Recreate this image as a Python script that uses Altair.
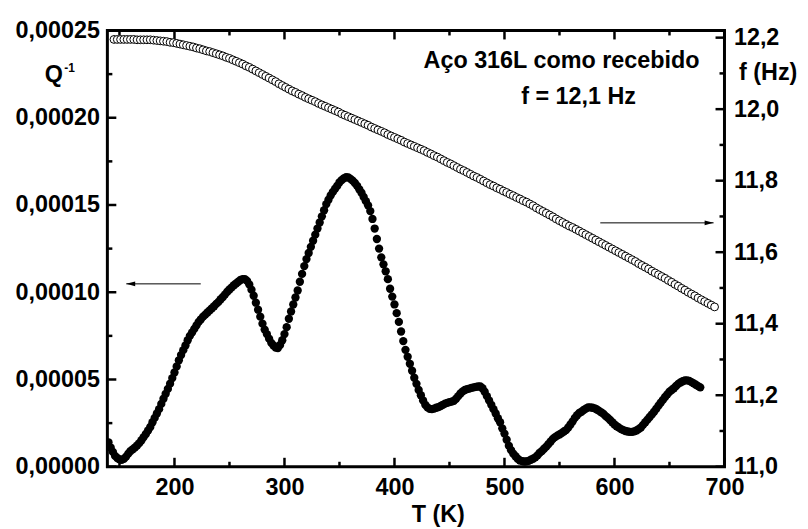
import altair as alt
import pandas as pd

# ---------------- data ----------------
# Internal friction Q^-1 (in units of 1e-6), T step 2 K from 140 K to 678 K
q_T = list(range(140, 679, 2))
q_e6 = [
    14, 11, 8.5, 6.2, 5, 4.2, 4, 4.5, 5.8, 7.5,                    # 140-158
    9, 10, 11, 12.2, 13.5, 15.2, 17, 18.8, 20.8, 22.8,              # 160-178
    25.5, 28, 30.5, 33, 36, 39, 41.8, 44.6, 47.6, 50.8,             # 180-198
    54, 57.5, 61, 64, 66.8, 69.5, 72.5, 75, 77, 79,                 # 200-218
    81, 83, 84.5, 86, 87.2, 88.4, 89.6, 90.8, 92, 93.3,             # 220-238
    94.5, 96, 97.3, 98.8, 100.3, 101.6, 102.8, 104, 105, 106,       # 240-258
    107, 107.5, 107.5, 106.5, 104.5, 101.5, 98, 94, 90, 86,         # 260-278
    82, 78.6, 76, 73.4, 71, 69.5, 68.3, 68, 69.8, 72.5,             # 280-298
    76, 80, 84.8, 89, 93, 97, 101, 106, 110.5, 115,                 # 300-318
    119, 122.5, 126, 129.5, 133, 136.5, 140, 143.5, 147, 150.5,     # 320-338
    153, 155.5, 157.5, 159.3, 161, 163, 164.3, 165.3, 166, 165.8,   # 340-358
    165, 164, 162.6, 161, 159, 157, 154.6, 152.2, 149.8, 146.5,     # 360-378
    142, 136.5, 130.5, 125, 120, 116, 112, 107.5, 102, 97.5,        # 380-398
    93, 88, 83, 77.5, 72, 67, 63, 59, 55, 51,                       # 400-418
    47.5, 44, 41, 38, 35.5, 34, 33.2, 33, 33.3, 33.8,               # 420-438
    34.2, 34.8, 35.5, 36.2, 36.6, 37, 37.3, 37.8, 39, 40.5,         # 440-458
    42, 43.2, 44, 44.5, 44.8, 45.2, 45.5, 45.8, 46, 46,             # 460-478
    45, 43, 40.5, 38, 35.5, 33, 30.5, 27.8, 25.5, 22,               # 480-498
    19, 15.5, 12, 9.5, 7.5, 6, 4.6, 3.6, 3.2, 3,                    # 500-518
    3.1, 3.4, 4, 4.6, 5.4, 6.5, 8, 9, 10.3, 11.5,                   # 520-538
    13, 14.5, 16, 17, 17.8, 18.5, 19.3, 20.2, 21, 22.5,             # 540-558
    24.2, 26, 28, 29.5, 30.8, 31.5, 32.5, 33.3, 34, 34,             # 560-578
    33.8, 33.5, 32.8, 32, 31.2, 30.3, 29, 28, 26.8, 25.5,           # 580-598
    24.2, 23.2, 22.4, 21.6, 21, 20.5, 20.2, 20, 20, 20.3,           # 600-618
    20.8, 21.6, 22.5, 24, 25.5, 27, 28.5, 30, 31.5, 33.2,           # 620-638
    35, 36.7, 38.3, 40, 41.5, 43, 44, 45, 46.3, 47.5,               # 640-658
    48.3, 49, 49.5, 49.5, 49.2, 48.5, 47.8, 47, 46.2, 45.5,         # 660-678
]

# Resonance frequency f (Hz), T step 3 K from 145 K to 691 K
f_T = list(range(145, 692, 3))
f_hz = [
    12.195, 12.195, 12.195, 12.195, 12.195, 12.195, 12.195, 12.194, 12.194, 12.194,
    12.194, 12.194, 12.193, 12.192, 12.191, 12.190, 12.189, 12.187, 12.186, 12.184,
    12.182, 12.180, 12.178, 12.176, 12.174, 12.171, 12.169, 12.166, 12.163, 12.161,
    12.158, 12.155, 12.152, 12.149, 12.145, 12.142, 12.138, 12.134, 12.130, 12.126,
    12.121, 12.117, 12.112, 12.107, 12.102, 12.097, 12.092, 12.087, 12.082, 12.077,
    12.071, 12.066, 12.061, 12.056, 12.051, 12.047, 12.042, 12.038, 12.033, 12.029,
    12.025, 12.021, 12.016, 12.012, 12.008, 12.004, 12.000, 11.996, 11.992, 11.987,
    11.983, 11.979, 11.975, 11.971, 11.967, 11.963, 11.959, 11.955, 11.950, 11.946,
    11.942, 11.938, 11.934, 11.929, 11.925, 11.921, 11.917, 11.913, 11.908, 11.904,
    11.900, 11.896, 11.892, 11.888, 11.884, 11.879, 11.875, 11.870, 11.866, 11.861,
    11.856, 11.851, 11.847, 11.842, 11.837, 11.832, 11.828, 11.823, 11.818, 11.813,
    11.809, 11.804, 11.799, 11.794, 11.789, 11.785, 11.780, 11.776, 11.771, 11.767,
    11.762, 11.758, 11.753, 11.749, 11.744, 11.740, 11.735, 11.730, 11.724, 11.719,
    11.714, 11.709, 11.704, 11.699, 11.693, 11.688, 11.683, 11.678, 11.673, 11.669,
    11.664, 11.659, 11.654, 11.649, 11.644, 11.639, 11.634, 11.629, 11.624, 11.619,
    11.614, 11.609, 11.604, 11.599, 11.594, 11.589, 11.584, 11.579, 11.574, 11.568,
    11.563, 11.558, 11.553, 11.547, 11.542, 11.537, 11.532, 11.527, 11.521, 11.516,
    11.510, 11.505, 11.499, 11.494, 11.488, 11.483, 11.478, 11.472, 11.467, 11.462,
    11.457, 11.452, 11.447,
]

# axes
T_DOMAIN = [139, 700]
Q_DOMAIN = [0, 0.00025]
F_DOMAIN = [11.0, 12.22]
x_major = [200, 300, 400, 500, 600, 700]
x_minor = [150, 250, 350, 450, 550, 650]
q_major = [0.0, 0.00005, 0.0001, 0.00015, 0.0002, 0.00025]
q_minor = [0.000025, 0.000075, 0.000125, 0.000175, 0.000225]
f_major = [11.0, 11.2, 11.4, 11.6, 11.8, 12.0, 12.2]
f_minor = [11.1, 11.3, 11.5, 11.7, 11.9, 12.1]

# arrows (data units): tail, tip, head centre, level
arrow_q = {"T": [223.9], "T2": [156.2], "head": [160.2], "v": [0.0001048]}
arrow_f = {"T": [587.1], "T2": [690.1], "head": [686.0], "v": [11.682]}

FONT = "Liberation Sans"
FS = 23.5
W, H = 621, 439

# ---------------- encodings ----------------
axis_common = dict(
    ticks=False, tickSize=0, domain=False, grid=False, title=None,
    labelFont=FONT, labelFontSize=FS, labelFontWeight="bold", labelColor="black",
    labelFlush=False, labelOverlap=False, labelBound=False,
)

x_enc = alt.X("T:Q", scale=alt.Scale(domain=T_DOMAIN, nice=False, zero=False),
              axis=alt.Axis(values=x_major, format="d", labelPadding=9, **axis_common))
x2_enc = alt.X2("T2")
yq_enc = alt.Y("v:Q", scale=alt.Scale(domain=Q_DOMAIN, nice=False, zero=False),
               axis=alt.Axis(orient="left", values=q_major, labelPadding=8,
                             labelExpr="replace(format(datum.value, '.5f'), '.', ',')",
                             **axis_common))
yf_enc = alt.Y("v:Q", scale=alt.Scale(domain=F_DOMAIN, nice=False, zero=False),
               axis=alt.Axis(orient="right", values=f_major, labelPadding=9,
                             labelExpr="replace(format(datum.value, '.1f'), '.', ',')",
                             **axis_common))

q_df = pd.DataFrame({"T": q_T, "v": [v * 1e-6 for v in q_e6]})
f_df = pd.DataFrame({"T": f_T, "v": f_hz})

TW = 2.5
MAJ, MIN = 9, 5

# ---------------- left group (Q^-1) ----------------
q_points = alt.Chart(q_df).mark_circle(size=70, color="black", opacity=1, clip=True).encode(
    x=x_enc, y=yq_enc)

q_tick_maj = alt.Chart(pd.DataFrame({"v": q_major})).mark_rule(color="black", strokeWidth=TW).encode(
    y=yq_enc, x=alt.value(0), x2=alt.value(MAJ))
q_tick_min = alt.Chart(pd.DataFrame({"v": q_minor})).mark_rule(color="black", strokeWidth=TW).encode(
    y=yq_enc, x=alt.value(0), x2=alt.value(MIN))

xb_maj = alt.Chart(pd.DataFrame({"T": x_major})).mark_rule(color="black", strokeWidth=TW).encode(
    x=x_enc, y=alt.value(H), y2=alt.value(H - MAJ))
xb_min = alt.Chart(pd.DataFrame({"T": x_minor})).mark_rule(color="black", strokeWidth=TW).encode(
    x=x_enc, y=alt.value(H), y2=alt.value(H - MIN))
xt_maj = alt.Chart(pd.DataFrame({"T": x_major})).mark_rule(color="black", strokeWidth=TW).encode(
    x=x_enc, y=alt.value(0), y2=alt.value(MAJ))
xt_min = alt.Chart(pd.DataFrame({"T": x_minor})).mark_rule(color="black", strokeWidth=TW).encode(
    x=x_enc, y=alt.value(0), y2=alt.value(MIN))

aq_df = pd.DataFrame(arrow_q)
aq_line = alt.Chart(aq_df).mark_rule(color="black", strokeWidth=1).encode(x=x_enc, x2=x2_enc, y=yq_enc)
aq_head = alt.Chart(aq_df).mark_point(shape="M -1 0 L 1 -0.55 L 1 0.55 Z", size=81, filled=True,
                                      color="black", opacity=1).encode(
    x=alt.X("head:Q", scale=alt.Scale(domain=T_DOMAIN, nice=False, zero=False)), y=yq_enc)


def label(txt, x, y, size=FS, align="center"):
    return alt.Chart(pd.DataFrame({"t": [txt]})).mark_text(
        font=FONT, fontSize=size, fontWeight="bold", color="black", align=align, baseline="middle"
    ).encode(text="t:N", x=alt.value(x), y=alt.value(y))


texts = [
    label("Q", -54, 45),
    label("-1", -38, 38, size=12),
    label("f (Hz)", 665, 43),
    label("Aço 316L como recebido", 457, 31),
    label("f = 12,1 Hz", 532, 67, align="right"),
    label("T (K)", 333, 488),
]

left = alt.layer(q_points, q_tick_maj, q_tick_min, xb_maj, xb_min, xt_maj, xt_min,
                 aq_line, aq_head, *texts)

# ---------------- right group (f) ----------------
f_points = alt.Chart(f_df).mark_point(shape="circle", size=62, filled=True, fill="white",
                                      stroke="black", strokeWidth=1, opacity=1).encode(
    x=x_enc, y=yf_enc)
f_tick_maj = alt.Chart(pd.DataFrame({"v": f_major})).mark_rule(color="black", strokeWidth=TW).encode(
    y=yf_enc, x=alt.value(W), x2=alt.value(W - MAJ))
f_tick_min = alt.Chart(pd.DataFrame({"v": f_minor})).mark_rule(color="black", strokeWidth=TW).encode(
    y=yf_enc, x=alt.value(W), x2=alt.value(W - MIN))
af_df = pd.DataFrame(arrow_f)
af_line = alt.Chart(af_df).mark_rule(color="black", strokeWidth=1).encode(x=x_enc, x2=x2_enc, y=yf_enc)
af_head = alt.Chart(af_df).mark_point(shape="M 1 0 L -1 -0.55 L -1 0.55 Z", size=81, filled=True,
                                      color="black", opacity=1).encode(
    x=alt.X("head:Q", scale=alt.Scale(domain=T_DOMAIN, nice=False, zero=False)), y=yf_enc)

right = alt.layer(f_points, f_tick_maj, f_tick_min, af_line, af_head)

chart = alt.layer(left, right).resolve_scale(y="independent").properties(
    width=W, height=H,
    padding={"left": 100, "top": 21, "right": 76, "bottom": 59},
    autosize=alt.AutoSizeParams(type="none"),
    background="white",
).configure_view(stroke="black", strokeWidth=3)

chart.save("out.html", embed_options={"renderer": "svg", "actions": False})
